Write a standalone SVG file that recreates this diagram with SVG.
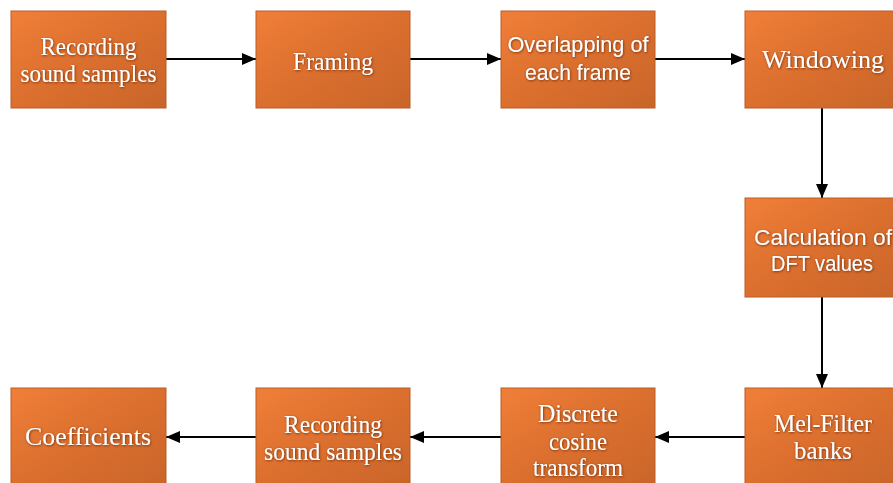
<svg xmlns="http://www.w3.org/2000/svg" width="893" height="483" viewBox="0 0 893 483">
<defs>
<linearGradient id="g" x1="0" y1="0" x2="1" y2="1">
<stop offset="0" stop-color="#F07F38"/>
<stop offset="0.5" stop-color="#DB6F2E"/>
<stop offset="1" stop-color="#C9652A"/>
</linearGradient>
<filter id="sh" x="-10%" y="-20%" width="120%" height="140%">
<feDropShadow dx="0.6" dy="0.8" stdDeviation="0.8" flood-color="#6a2c08" flood-opacity="0.9"/>
</filter>
<marker id="ah" viewBox="0 0 14 12" refX="14" refY="6" markerWidth="14" markerHeight="12" markerUnits="userSpaceOnUse" orient="auto">
<path d="M0,0 L14,6 L0,12 Z" fill="#000"/>
</marker>
</defs>
<style>
.box{fill:url(#g);stroke:#B95C26;stroke-width:1}
.t{fill:#fff;text-anchor:middle;filter:url(#sh)}
.s{font-family:"Liberation Serif","Times New Roman",serif;font-size:25px}
.c{font-family:"Liberation Sans",Arial,sans-serif;font-size:22px}
.e{stroke:#000;stroke-width:2;fill:none;marker-end:url(#ah)}
</style>
<g id="connectors">
<line class="e" x1="166" y1="59" x2="256" y2="59"/>
<line class="e" x1="410" y1="59" x2="501" y2="59"/>
<line class="e" x1="655" y1="59" x2="745" y2="59"/>
<line class="e" x1="822" y1="108" x2="822" y2="198"/>
<line class="e" x1="822" y1="297" x2="822" y2="388"/>
<line class="e" x1="745" y1="437" x2="655" y2="437"/>
<line class="e" x1="501" y1="437" x2="410" y2="437"/>
<line class="e" x1="256" y1="437" x2="166" y2="437"/>
</g>
<g id="n1"><rect class="box" x="11" y="11" width="155" height="97"/>
<text class="t s" x="88.5" y="55" textLength="96" lengthAdjust="spacingAndGlyphs">Recording</text>
<text class="t s" x="88.5" y="82" textLength="136" lengthAdjust="spacingAndGlyphs">sound samples</text></g>
<g id="n2"><rect class="box" x="256" y="11" width="154" height="97"/>
<text class="t s" x="333" y="70" textLength="80" lengthAdjust="spacingAndGlyphs">Framing</text></g>
<g id="n3"><rect class="box" x="501" y="11" width="154" height="97"/>
<text class="t c" x="578" y="52" textLength="141" lengthAdjust="spacingAndGlyphs">Overlapping of</text>
<text class="t c" x="578" y="80" textLength="106" lengthAdjust="spacingAndGlyphs">each frame</text></g>
<g id="n4"><rect class="box" x="745" y="11" width="155" height="97"/>
<text class="t s" x="823" y="68" textLength="122" lengthAdjust="spacingAndGlyphs">Windowing</text></g>
<g id="n5"><rect class="box" x="745" y="198" width="155" height="99"/>
<text class="t c" x="823" y="245" textLength="138" lengthAdjust="spacingAndGlyphs">Calculation  of</text>
<text class="t c" x="822" y="271" textLength="102" lengthAdjust="spacingAndGlyphs">DFT values</text></g>
<g id="n6"><rect class="box" x="745" y="388" width="155" height="100"/>
<text class="t s" x="823" y="432" textLength="98" lengthAdjust="spacingAndGlyphs">Mel-Filter</text>
<text class="t s" x="823" y="459" textLength="58" lengthAdjust="spacingAndGlyphs">banks</text></g>
<g id="n7"><rect class="box" x="501" y="388" width="154" height="100"/>
<text class="t s" x="578" y="422" textLength="80" lengthAdjust="spacingAndGlyphs">Discrete</text>
<text class="t s" x="578" y="450" textLength="58" lengthAdjust="spacingAndGlyphs">cosine</text>
<text class="t s" x="578" y="476" textLength="90" lengthAdjust="spacingAndGlyphs">transform</text></g>
<g id="n8"><rect class="box" x="256" y="388" width="154" height="100"/>
<text class="t s" x="333" y="433" textLength="98" lengthAdjust="spacingAndGlyphs">Recording</text>
<text class="t s" x="333" y="460" textLength="138" lengthAdjust="spacingAndGlyphs">sound samples</text></g>
<g id="n9"><rect class="box" x="11" y="388" width="155" height="100"/>
<text class="t s" x="88" y="445" textLength="126" lengthAdjust="spacingAndGlyphs">Coefficients</text></g>
</svg>
